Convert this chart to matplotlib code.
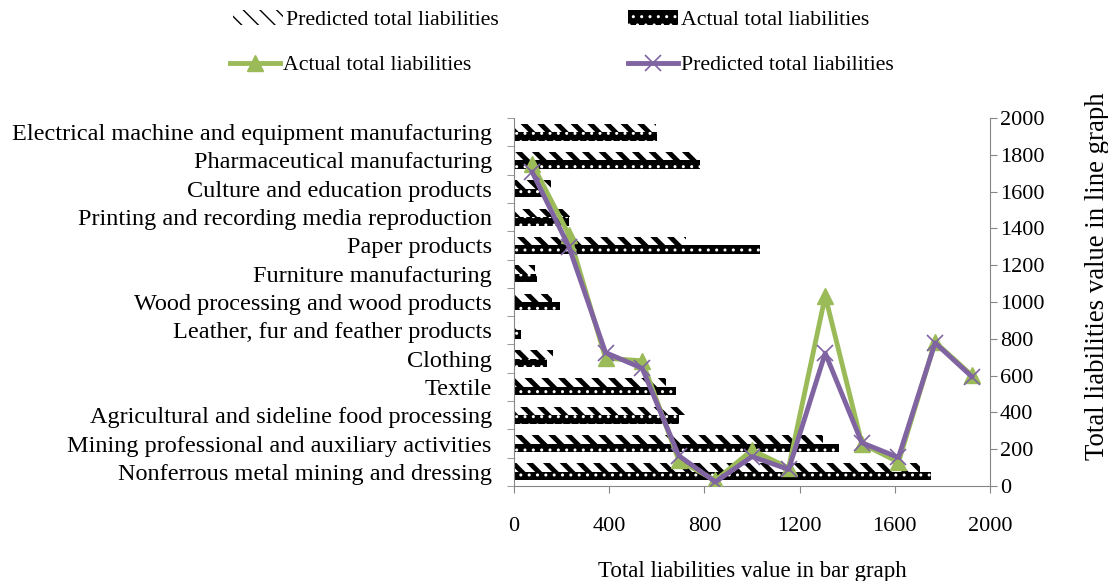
import numpy as np
import matplotlib
matplotlib.use("Agg")
import matplotlib.pyplot as plt

plt.rcParams["font.family"] = ["Liberation Serif", "DejaVu Serif"]
plt.rcParams["font.size"] = 16

# Industries, bottom to top
industries = [
    "Nonferrous metal mining and dressing",
    "Mining professional and auxiliary activities",
    "Agricultural and sideline food processing",
    "Textile",
    "Clothing",
    "Leather, fur and feather products",
    "Wood processing and wood products",
    "Furniture manufacturing",
    "Paper products",
    "Printing and recording media reproduction",
    "Culture and education products",
    "Pharmaceutical manufacturing",
    "Electrical machine and equipment manufacturing",
]
actual_liab = [1750, 1365, 695, 680, 140, 30, 195, 98, 1032, 230, 130, 782, 602]
predicted_liab = [1705, 1300, 725, 640, 165, 22, 160, 90, 722, 235, 155, 778, 595]

bar_ticks = [0, 400, 800, 1200, 1600, 2000]
line_ticks = list(range(0, 2001, 200))

GREEN = "#9BBB59"
PURPLE = "#8064A2"
AXIS_GREY = "#868686"

fig = plt.figure(figsize=(11.08, 5.81), dpi=100)
ax = fig.add_axes([514 / 1108, 1 - 486 / 581, 476 / 1108, 368 / 581])

y = np.arange(len(industries))
bar_h = 0.3

with plt.rc_context({"hatch.linewidth": 3.5}):
    pred_bars = ax.barh(y + bar_h / 2, predicted_liab, height=bar_h,
                        facecolor="white", edgecolor="black", linewidth=0,
                        hatch="\\\\")
with plt.rc_context({"hatch.linewidth": 1.0}):
    act_bars = ax.barh(y - bar_h / 2, actual_liab, height=bar_h,
                       facecolor="black", edgecolor="white", linewidth=0,
                       hatch="..")

ax.set_xlim(0, 2000)
ax.set_ylim(-0.5, len(industries) - 0.5)
ax.set_xticks(bar_ticks)
ax.set_yticks(y)
ax.set_yticklabels(industries, fontsize=17.5)
ax.set_yticks(np.arange(len(industries) + 1) - 0.5, minor=True)
ax.tick_params(axis="y", which="major", length=0, pad=16)
ax.tick_params(axis="y", which="minor", length=5, color=AXIS_GREY, direction="out")
ax.tick_params(axis="x", length=5, color=AXIS_GREY, direction="out", pad=17)
for side in ("top", "right"):
    ax.spines[side].set_visible(False)
for side in ("left", "bottom"):
    ax.spines[side].set_color(AXIS_GREY)
ax.set_xlabel("Total liabilities value in bar graph", labelpad=18, fontsize=16.5)

# Secondary value axis for the line graph
ax2 = ax.twinx()
ax2.set_ylim(0, 2000)
ax2.set_yticks(line_ticks)
ax2.tick_params(axis="y", length=5, color=AXIS_GREY, direction="out", pad=2)
for side in ("top", "left", "bottom"):
    ax2.spines[side].set_visible(False)
ax2.spines["right"].set_color(AXIS_GREY)
ax2.set_ylabel("Total liabilities value in line graph", fontsize=19.3,
               va="center")
ax2.yaxis.set_label_coords(1.225, 0.571)

# Category axis for the line graph (hidden)
ax3 = ax2.twiny()
ax3.set_xlim(0, len(industries))
ax3.axis("off")
xc = np.arange(len(industries)) + 0.5
act_line, = ax3.plot(xc, actual_liab, color=GREEN, lw=3.5, marker="^",
                     ms=11, mec=GREEN, mfc=GREEN)
pred_line, = ax3.plot(xc, predicted_liab, color=PURPLE, lw=3.5, marker="x",
                      ms=12, mew=1.2, mec=PURPLE)

legend_kw = dict(frameon=False, loc="center left", borderpad=0, borderaxespad=0,
                 handlelength=2.3, handletextpad=0.15, fontsize=15.7)
entries = [
    (pred_bars, "Predicted total liabilities", 233, 20),
    (act_bars, "Actual total liabilities", 628, 20),
    (act_line, "Actual total liabilities", 230, 65),
    (pred_line, "Predicted total liabilities", 628, 65),
]
for handle, label, px, py in entries:
    leg = fig.legend([handle], [label], bbox_to_anchor=(px / 1108, 1 - py / 581),
                     **legend_kw)

fig.savefig("out.png", dpi=100)
